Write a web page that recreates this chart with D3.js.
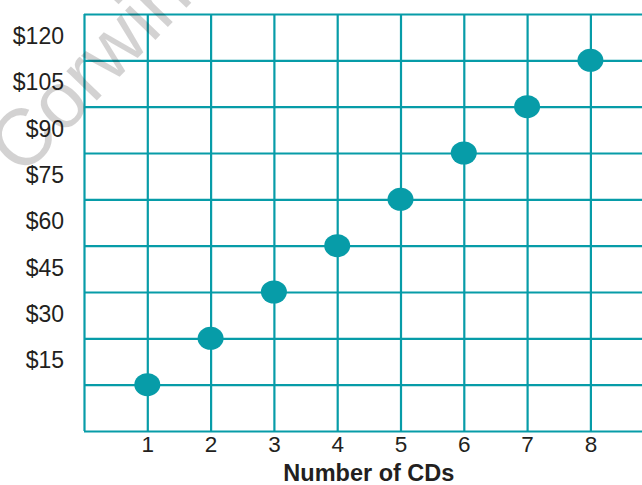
<!DOCTYPE html>
<html>
 <head>
   <meta charset="utf-8" />
   <title>Number of CDs</title>
   <script src="https://cdn.jsdelivr.net/npm/d3@7"></script>
   <style>
     body { margin: 0; background: #fff; }
     text { font-family: "Liberation Sans", Arial, sans-serif; fill: #231f20; }
   </style>
 </head>

 <body>
   <script>
     var width = 642, height = 485;
     var teal = "#079ca8";

     // data
     var cds    = [1, 2, 3, 4, 5, 6, 7, 8];
     var costs  = [15, 30, 45, 60, 75, 90, 105, 120];
     var xGrid  = [0, 1, 2, 3, 4, 5, 6, 7, 8, 9];
     var yGrid  = [0, 15, 30, 45, 60, 75, 90, 105, 120, 135];
     var yTicks = [15, 30, 45, 60, 75, 90, 105, 120];

     var plotLeft = 84, plotTop = 14, plotBottom = 431, step = 63.3;

     var x = d3.scaleLinear().domain([0, 9]).range([plotLeft, plotLeft + 9 * step]);
     var y = d3.scaleLinear().domain([0, 135]).range([plotBottom, plotTop]);

     var svg = d3.select("body").append("svg")
                 .attr("width", width)
                 .attr("height", height);

     // horizontal grid lines
     svg.append("g")
        .attr("transform", "translate(" + plotLeft + ",0)")
        .call(d3.axisLeft(y).tickValues(yGrid).tickSize(-(x(9) - plotLeft)).tickFormat(""))
        .call(function(g) {
          g.select(".domain").remove();
          g.selectAll("line").attr("stroke", teal).attr("stroke-width", 2.2);
        });

     // vertical grid lines
     svg.append("g")
        .attr("transform", "translate(0," + plotBottom + ")")
        .call(d3.axisBottom(x).tickValues(xGrid).tickSize(-(plotBottom - plotTop)).tickFormat(""))
        .call(function(g) {
          g.select(".domain").remove();
          g.selectAll("line").attr("stroke", teal).attr("stroke-width", 2.2);
        });

     // y labels sit half a band above their grid line
     var half = (y(0) - y(15)) / 2;
     svg.append("g")
        .attr("transform", "translate(64," + (-half - 1) + ")")
        .call(d3.axisLeft(y).tickValues(yTicks).tickSize(0).tickPadding(0)
                .tickFormat(function(d) { return "$" + d; }))
        .call(function(g) {
          g.select(".domain").remove();
          g.selectAll("text").attr("font-size", 23).attr("fill", "#231f20")
           .attr("font-family", "Liberation Sans, Arial, sans-serif");
        });

     // x labels
     svg.append("g")
        .attr("transform", "translate(0," + (plotBottom + 5) + ")")
        .call(d3.axisBottom(x).tickValues(cds).tickSize(0).tickPadding(0))
        .call(function(g) {
          g.select(".domain").remove();
          g.selectAll("text").attr("font-size", 22.5).attr("fill", "#231f20")
           .attr("font-family", "Liberation Sans, Arial, sans-serif");
        });

     svg.append("text")
        .attr("x", x(4.5))
        .attr("y", 481)
        .attr("text-anchor", "middle")
        .attr("font-size", 23.5)
        .attr("font-weight", "bold")
        .text("Number of CDs");

     // points
     svg.selectAll("ellipse.pt")
        .data(cds)
        .enter().append("ellipse")
        .attr("class", "pt")
        .attr("cx", function(d) { return x(d); })
        .attr("cy", function(d, i) { return y(costs[i]); })
        .attr("rx", 13)
        .attr("ry", 11.5)
        .attr("fill", teal);

     // faint watermark
     svg.append("text")
        .attr("transform", "translate(22,178) rotate(-46)")
        .attr("font-size", 80)
        .attr("fill", "#000")
        .attr("fill-opacity", 0.2)
        .text("Corwin");
  </script>
 </body>
</html>
